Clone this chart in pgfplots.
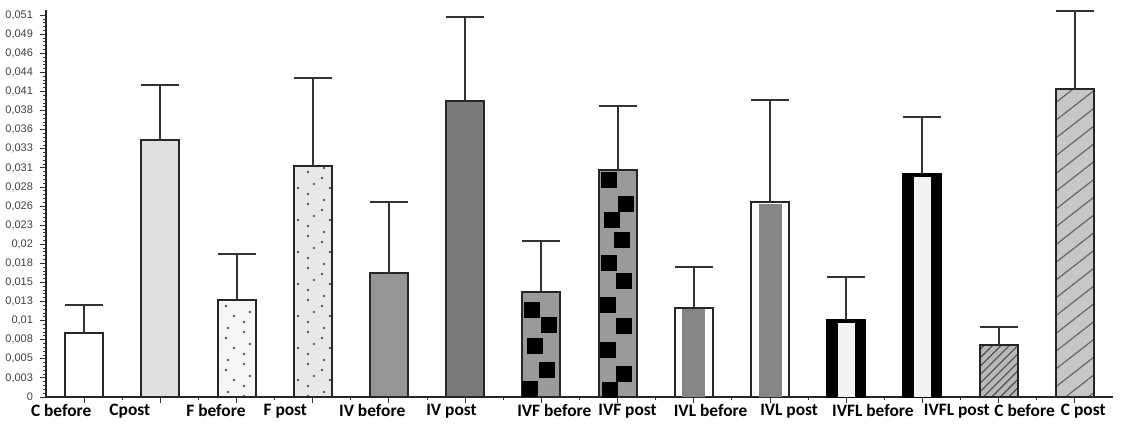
\documentclass[border=0pt]{standalone}
\usepackage{fontspec}
\setmainfont{Carlito}
\newfontfamily\arialf{Liberation Sans}
\usepackage{pgfplots}
\pgfplotsset{compat=1.18}
\usetikzlibrary{patterns,patterns.meta}
\pgfdeclarepatternformonly{sparsedots}{\pgfpoint{-1pt}{-1pt}}{\pgfpoint{17pt}{17pt}}{\pgfpoint{16pt}{16pt}}{%
 \pgfpathcircle{\pgfpoint{2pt}{3pt}}{0.7pt}%
 \pgfpathcircle{\pgfpoint{10pt}{1pt}}{0.7pt}%
 \pgfpathcircle{\pgfpoint{5pt}{9pt}}{0.7pt}%
 \pgfpathcircle{\pgfpoint{13pt}{11pt}}{0.7pt}%
 \pgfpathcircle{\pgfpoint{1pt}{14pt}}{0.7pt}%
 \pgfpathcircle{\pgfpoint{10pt}{6pt}}{0.7pt}%
 \pgfusepath{fill}}
\definecolor{ivb}{HTML}{959595}
\definecolor{ivp}{HTML}{7A7A7A}
\definecolor{ivf}{HTML}{9A9A9A}
\pgfplotsset{
 eb/.style={error bars/.cd, y dir=plus, y explicit,
   error bar style={line width=1pt, black!80},
   error mark options={rotate=90, mark size=9.5pt, line width=1pt, black!80}},
 barst/.style={ybar, draw=black!85, line width=1pt},
}
\begin{document}
\begin{tikzpicture}[x=1pt,y=1pt]
\useasboundingbox (-23,-16.5) rectangle (539.5,198.5);
\begin{axis}[
 at={(0,0)}, anchor=south west,
 scale only axis, width=533.5pt, height=193.5pt,
 xmin=-0.5, xmax=13.5, ymin=0, ymax=0.0521,
 axis lines*=left,
 axis line style={line width=0.9pt, black!85},
 bar width=19pt, bar shift=0pt,
 xtick={0,...,13}, xticklabels={}, minor x tick num=1,
 extra x ticks={-0.30,0.60,1.73,2.64,3.78,4.82,6.17,7.13,8.22,9.25,10.35,11.45,12.34,13.11},
 extra x tick labels={C before,Cpost,F before,F post,IV before,IV post,IVF before,IVF post,IVL before,IVL post,IVFL before,IVFL post,C before,C post},
 extra x tick style={major tick length=0pt, xticklabel style={font=\bfseries\fontsize{8.7}{10}\selectfont, black}},
 tick align=outside, major tick length=3pt, minor tick length=1.5pt,
 tick style={black!80, line width=0.5pt},
 scaled y ticks=false,
 ytick={0,0.00257,0.00514,0.00771,0.01028,0.01285,0.01542,0.01799,0.02056,0.02313,0.0257,0.02827,0.03084,0.03341,0.03598,0.03855,0.04112,0.04369,0.04626,0.04883,0.0514},
 yticklabels={{0},{0,003},{0,005},{0,008},{0,01},{0,013},{0,015},{0,018},{0,02},{0,023},{0,026},{0,028},{0,031},{0,033},{0,036},{0,038},{0,041},{0,044},{0,046},{0,049},{0,051}},
 minor y tick num=4,
 yticklabel style={font=\arialf\fontsize{5.5}{6}\selectfont, text=black!75},
]
% C before
\addplot[barst, fill=white, eb] coordinates {(0,0.0086) +- (0,0.0038)};
% Cpost
\addplot[barst, fill=black!12, eb] coordinates {(1,0.0346) +- (0,0.0074)};
% F before
\addplot[barst, fill=black!4, postaction={pattern=sparsedots, pattern color=black!65}, eb] coordinates {(2,0.0131) +- (0,0.0061)};
% F post
\addplot[barst, fill=black!9, postaction={pattern=sparsedots, pattern color=black!65}, eb] coordinates {(3,0.0311) +- (0,0.0118)};
% IV before
\addplot[barst, fill=ivb, eb] coordinates {(4,0.0167) +- (0,0.0095)};
% IV post
\addplot[barst, fill=ivp, eb] coordinates {(5,0.0398) +- (0,0.0113)};
% IVF before
\addplot[barst, fill=ivf, eb] coordinates {(6,0.0141) +- (0,0.0069)};
\addplot[only marks, mark=square*, mark size=3.7pt, black] coordinates {
 (5.877,0.01177) (6.100,0.00975) (5.916,0.00693) (6.074,0.00370) (5.850,0.00114)};
% IVF post
\addplot[barst, fill=ivf, eb] coordinates {(7,0.0306) +- (0,0.0086)};
\addplot[only marks, mark=square*, mark size=3.7pt, black] coordinates {
 (6.888,0.02920) (7.105,0.02597) (6.927,0.02388) (7.058,0.02119) (6.888,0.01803)
 (7.085,0.01567) (6.875,0.01238) (7.085,0.00962) (6.875,0.00632) (7.085,0.00316) (6.894,0.00101)};
% IVL before
\addplot[barst, fill=white, eb] coordinates {(8,0.0120) +- (0,0.0055)};
\addplot[ybar, bar width=11.5pt, fill=black!48, draw=none] coordinates {(8,0.0118)};
% IVL post
\addplot[barst, fill=white, eb] coordinates {(9,0.0262) +- (0,0.0138)};
\addplot[ybar, bar width=11.5pt, fill=black!48, draw=none] coordinates {(9,0.0260)};
% IVFL before
\addplot[barst, fill=black, draw=black, eb] coordinates {(10,0.0104) +- (0,0.0058)};
\addplot[ybar, bar width=8.5pt, fill=black!5, draw=none] coordinates {(10,0.0100)};
% IVFL post
\addplot[barst, fill=black, draw=black, eb] coordinates {(11,0.0300) +- (0,0.0077)};
\addplot[ybar, bar width=8.5pt, fill=black!5, draw=none] coordinates {(11,0.0296)};
% C before
\addplot[barst, fill=black!28, postaction={pattern={Lines[angle=45,distance=3pt,line width=0.6pt]}, pattern color=black!70}, eb] coordinates {(12,0.0070) +- (0,0.0024)};
% C post
\addplot[barst, fill=black!22, postaction={pattern={Lines[angle=38,distance=7pt,line width=0.6pt]}, pattern color=black!60}, eb] coordinates {(13,0.0415) +- (0,0.0105)};
\end{axis}
\end{tikzpicture}
\end{document}
